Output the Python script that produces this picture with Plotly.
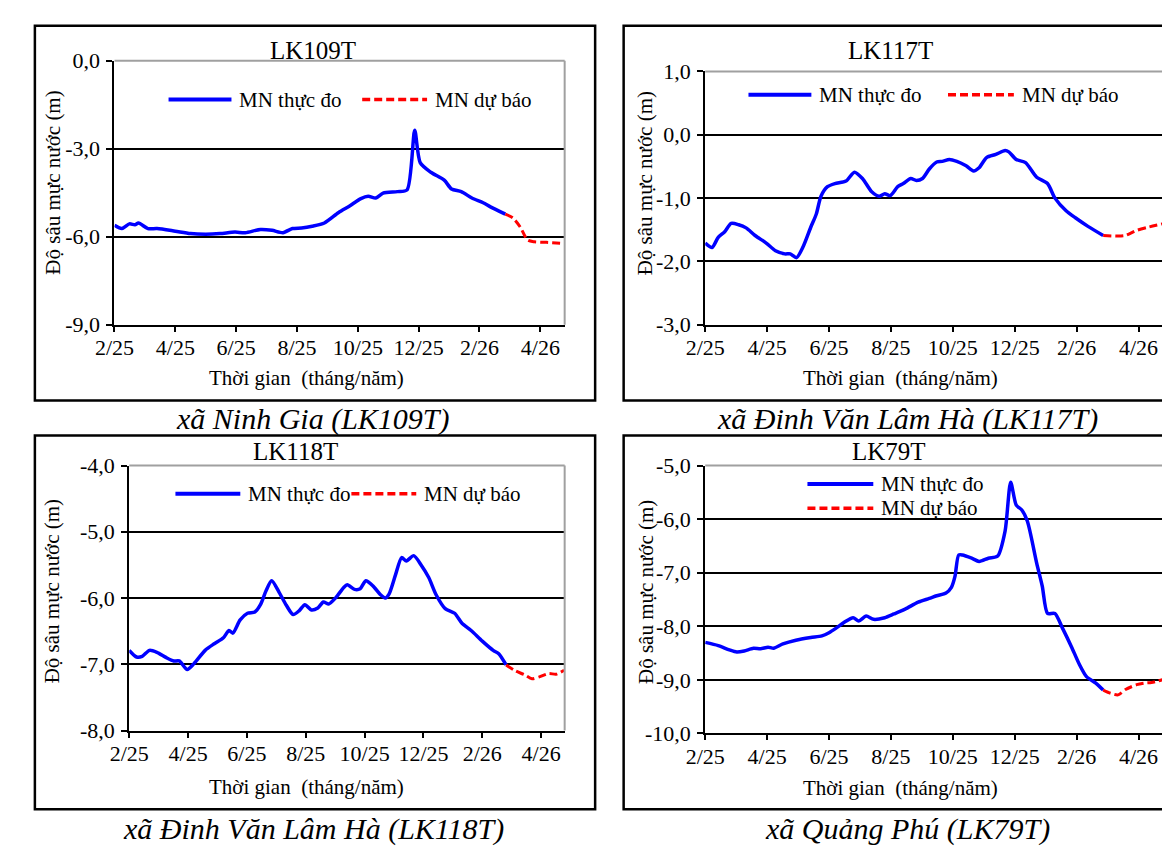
import plotly.graph_objects as go

# ---------------- data (x = months since Feb 2025) ----------------
tick_vals = [0, 2, 4, 6, 8, 10, 12, 14]
tick_text = ["2/25", "4/25", "6/25", "8/25", "10/25", "12/25", "2/26", "4/26"]

# LK109T
t1_obs = [0, 0.24, 0.49, 0.67, 0.79, 1.1, 1.4, 2.0, 2.5, 3.0, 3.47, 3.96, 4.3, 4.8, 5.18, 5.54,
          5.85, 6.15, 6.5, 6.9, 7.37, 7.73, 8.1, 8.34, 8.59, 8.83, 9.3, 9.62, 9.87, 10.05, 10.4,
          10.84, 11.08, 11.4, 11.75, 12.12, 12.36, 12.85]
v1_obs = [-5.61, -5.72, -5.56, -5.59, -5.53, -5.72, -5.72, -5.81, -5.89, -5.91, -5.89, -5.84,
          -5.86, -5.75, -5.78, -5.86, -5.72, -5.70, -5.64, -5.53, -5.17, -4.95, -4.70, -4.62,
          -4.68, -4.51, -4.46, -4.40, -2.37, -3.47, -3.80, -4.07, -4.37, -4.46, -4.68, -4.84,
          -4.98, -5.23]
t1_fc = [12.85, 13.1, 13.34, 13.58, 13.8, 14.2, 14.7]
v1_fc = [-5.23, -5.36, -5.67, -6.11, -6.17, -6.19, -6.22]

# LK117T
t2_obs = [0, 0.22, 0.42, 0.63, 0.84, 1.08, 1.32, 1.61, 1.97, 2.27, 2.57, 2.75, 2.95, 3.17, 3.41,
          3.59, 3.74, 3.95, 4.19, 4.55, 4.82, 5.08, 5.38, 5.62, 5.80, 5.98, 6.22, 6.40, 6.64,
          6.82, 7.02, 7.24, 7.48, 7.66, 7.89, 8.13, 8.43, 8.67, 8.85, 9.09, 9.39, 9.69, 9.81,
          10.05, 10.35, 10.71, 11.06, 11.3, 11.66, 11.96, 12.38, 12.86]
v2_obs = [-1.71, -1.78, -1.62, -1.53, -1.40, -1.42, -1.47, -1.59, -1.71, -1.83, -1.88, -1.88,
          -1.94, -1.76, -1.46, -1.25, -0.97, -0.82, -0.77, -0.73, -0.59, -0.69, -0.90, -0.97,
          -0.93, -0.96, -0.82, -0.77, -0.69, -0.72, -0.69, -0.54, -0.43, -0.42, -0.39, -0.42,
          -0.49, -0.57, -0.52, -0.36, -0.31, -0.25, -0.27, -0.39, -0.44, -0.67, -0.77, -1.00,
          -1.20, -1.31, -1.45, -1.59]
t2_fc = [12.86, 13.34, 13.58, 13.94, 14.3, 14.83]
v2_fc = [-1.59, -1.60, -1.59, -1.51, -1.46, -1.40]

# LK118T
t3_obs = [0, 0.25, 0.44, 0.69, 0.94, 1.26, 1.51, 1.7, 1.97, 2.2, 2.58, 2.89, 3.2, 3.39, 3.52,
          3.77, 4.02, 4.27, 4.46, 4.65, 4.84, 5.09, 5.34, 5.57, 5.78, 5.97, 6.19, 6.41, 6.6,
          6.78, 7.03, 7.29, 7.41, 7.66, 7.85, 8.04, 8.29, 8.54, 8.7, 8.83, 9.05, 9.26, 9.42,
          9.67, 9.92, 10.18, 10.43, 10.74, 11.06, 11.31, 11.62, 12.0, 12.37, 12.56, 12.81]
v3_obs = [-6.79, -6.89, -6.88, -6.79, -6.82, -6.90, -6.95, -6.95, -7.08, -6.99, -6.79, -6.69,
          -6.60, -6.49, -6.53, -6.33, -6.23, -6.21, -6.10, -5.89, -5.74, -5.91, -6.11, -6.25,
          -6.19, -6.10, -6.18, -6.15, -6.06, -6.09, -5.99, -5.84, -5.80, -5.87, -5.86, -5.74,
          -5.82, -5.95, -6.00, -5.94, -5.65, -5.39, -5.44, -5.36, -5.50, -5.69, -5.95, -6.16,
          -6.23, -6.38, -6.49, -6.65, -6.79, -6.84, -7.01]
t3_fc = [12.81, 13.13, 13.44, 13.69, 13.94, 14.26, 14.51, 14.78]
v3_fc = [-7.01, -7.10, -7.16, -7.22, -7.19, -7.14, -7.15, -7.09]

# LK79T
t4_obs = [0, 0.42, 0.78, 1.02, 1.26, 1.56, 1.79, 2.03, 2.21, 2.51, 2.93, 3.41, 3.77, 4.0, 4.24,
          4.48, 4.78, 4.96, 5.2, 5.44, 5.8, 6.1, 6.46, 6.88, 7.24, 7.48, 7.78, 7.95, 8.07, 8.19,
          8.31, 8.61, 8.85, 9.15, 9.45, 9.69, 9.87, 10.05, 10.23, 10.41, 10.71, 10.89, 11.06,
          11.3, 11.54, 11.84, 12.08, 12.32, 12.62, 12.86]
v4_obs = [-8.30, -8.36, -8.44, -8.48, -8.46, -8.41, -8.42, -8.39, -8.41, -8.33, -8.26, -8.21,
          -8.18, -8.12, -8.03, -7.93, -7.84, -7.90, -7.81, -7.87, -7.84, -7.77, -7.68, -7.55,
          -7.48, -7.43, -7.38, -7.28, -7.07, -6.67, -6.67, -6.73, -6.79, -6.73, -6.69, -6.22,
          -5.31, -5.74, -5.83, -6.04, -6.82, -7.25, -7.76, -7.76, -8.03, -8.39, -8.70, -8.94,
          -9.06, -9.19]
t4_fc = [12.86, 13.1, 13.34, 13.58, 13.94, 14.18, 14.42, 14.83]
v4_fc = [-9.19, -9.25, -9.28, -9.18, -9.09, -9.06, -9.05, -8.99]

titles = ["LK109T", "LK117T", "LK118T", "LK79T"]
captions = ["xã Ninh Gia (LK109T)", "xã Đinh Văn Lâm Hà (LK117T)",
            "xã Đinh Văn Lâm Hà (LK118T)", "xã Quảng Phú (LK79T)"]
y_ranges = [[-9, 0], [-3, 1], [-8, -4], [-10, -5]]
y_ticks = [[0, -3, -6, -9], [1, 0, -1, -2, -3], [-4, -5, -6, -7, -8], [-5, -6, -7, -8, -9, -10]]
y_ticktext = [["0,0", "-3,0", "-6,0", "-9,0"],
              ["1,0", "0,0", "-1,0", "-2,0", "-3,0"],
              ["-4,0", "-5,0", "-6,0", "-7,0", "-8,0"],
              ["-5,0", "-6,0", "-7,0", "-8,0", "-9,0", "-10,0"]]
obs_label = "MN thực đo"
fc_label = "MN dự báo"
x_title = "Thời gian\u00a0 (tháng/năm)"
y_title = "Độ sâu mực nước (m)"

series = [(t1_obs, v1_obs, t1_fc, v1_fc), (t2_obs, v2_obs, t2_fc, v2_fc),
          (t3_obs, v3_obs, t3_fc, v3_fc), (t4_obs, v4_obs, t4_fc, v4_fc)]

# ---------------- layout geometry (pixels) ----------------
W, H = 1170, 852
FONT = "Liberation Serif"
plot_px = [(88, 546, 42, 314), (689, 1155, 53, 314), (103, 546, 459, 732), (689, 1155, 459, 735)]
box_px = [(7, 577, 6, 392), (606, 1172, 6, 392), (7, 577, 428, 813), (606, 1172, 428, 813)]
title_px = [(290, 31), (877, 31), (272, 445), (876, 445)]
caption_px = [(290, 411), (895, 411), (290, 833), (895, 833)]
xtitle_px = [(283, 369), (888, 369), (283, 790), (888, 791)]
ytitle_px = [(26, 168), (628, 168), (24, 589), (628, 589)]
legend_px = [  # (obs line x0,x1,y, fc line x0,x1,y)
    (143, 207, 82, 340, 406, 82),
    (733, 797, 77, 936, 1003, 77),
    (150, 216, 488, 329, 395, 488),
    (793, 860, 478, 793, 860, 503),
]

def px(x):
    return x / W

def py(y):
    return 1 - y / H

fig = go.Figure()
shapes = []
annotations = []

for i in range(4):
    n = "" if i == 0 else str(i + 1)
    xa, ya = "x" + n, "y" + n
    t_o, v_o, t_f, v_f = series[i]
    fig.add_trace(go.Scatter(x=t_o, y=v_o, mode="lines", xaxis=xa, yaxis=ya, showlegend=False,
                             line=dict(color="#0000FF", width=3.5, shape="spline", smoothing=0.7)))
    fig.add_trace(go.Scatter(x=t_f, y=v_f, mode="lines", xaxis=xa, yaxis=ya, showlegend=False,
                             line=dict(color="#FF0000", width=3, dash="8px,4px",
                                       shape="spline", smoothing=0.7)))
    x0, x1, y0, y1 = plot_px[i]
    fig.update_layout(**{
        "xaxis" + n: dict(domain=[px(x0), px(x1)], anchor=ya, range=[0, 14.8],
                          tickmode="array", tickvals=tick_vals, ticktext=tick_text,
                          showline=True, linecolor="black", linewidth=2,
                          ticks="outside", ticklen=5, tickwidth=2, tickcolor="black",
                          showgrid=False, zeroline=False, ticklabelstandoff=-3,
                          tickfont=dict(family=FONT, size=22, color="black")),
        "yaxis" + n: dict(domain=[py(y1), py(y0)], anchor=xa, range=y_ranges[i],
                          tickmode="array", tickvals=y_ticks[i], ticktext=y_ticktext[i],
                          showline=True, linecolor="black", linewidth=2,
                          ticks="outside", ticklen=6, tickwidth=2, tickcolor="black",
                          showgrid=True, gridcolor="black", gridwidth=1.8, zeroline=False,
                          ticklabelstandoff=2,
                          tickfont=dict(family=FONT, size=22, color="black")),
    })
    # grey top/right plot border
    shapes.append(dict(type="line", xref=xa + " domain", yref=ya + " domain", x0=0, x1=1, y0=1, y1=1,
                       line=dict(color="#a0a0a0", width=2)))
    shapes.append(dict(type="line", xref=xa + " domain", yref=ya + " domain", x0=1, x1=1, y0=0, y1=1,
                       line=dict(color="#a0a0a0", width=2)))
    # outer panel box
    bx0, bx1, by0, by1 = box_px[i]
    shapes.append(dict(type="rect", xref="paper", yref="paper", x0=px(bx0), x1=px(bx1),
                       y0=py(by1), y1=py(by0), line=dict(color="black", width=2.5)))
    # legend
    lx0, lx1, ly, fx0, fx1, fy = legend_px[i]
    shapes.append(dict(type="line", xref="paper", yref="paper", x0=px(lx0), x1=px(lx1),
                       y0=py(ly), y1=py(ly), line=dict(color="#0000FF", width=4)))
    shapes.append(dict(type="line", xref="paper", yref="paper", x0=px(fx0), x1=px(fx1),
                       y0=py(fy), y1=py(fy), line=dict(color="#FF0000", width=3.5, dash="8px,4px")))
    annotations.append(dict(text=obs_label, x=px(lx1 + 6), y=py(ly), xref="paper", yref="paper",
                            xanchor="left", yanchor="middle", showarrow=False,
                            font=dict(family=FONT, size=21, color="black")))
    annotations.append(dict(text=fc_label, x=px(fx1 + 6), y=py(fy), xref="paper", yref="paper",
                            xanchor="left", yanchor="middle", showarrow=False,
                            font=dict(family=FONT, size=21, color="black")))
    # titles, captions, axis titles
    tx, ty = title_px[i]
    annotations.append(dict(text=titles[i], x=px(tx), y=py(ty), xref="paper", yref="paper",
                            xanchor="center", yanchor="middle", showarrow=False,
                            font=dict(family=FONT, size=25, color="black")))
    cx, cy = caption_px[i]
    annotations.append(dict(text="<i>" + captions[i] + "</i>", x=px(cx), y=py(cy), xref="paper",
                            yref="paper", xanchor="center", yanchor="middle", showarrow=False,
                            font=dict(family=FONT, size=30, color="black")))
    xtx, xty = xtitle_px[i]
    annotations.append(dict(text=x_title, x=px(xtx), y=py(xty), xref="paper", yref="paper",
                            xanchor="center", yanchor="middle", showarrow=False,
                            font=dict(family=FONT, size=21, color="black")))
    ytx, yty = ytitle_px[i]
    annotations.append(dict(text=y_title, x=px(ytx), y=py(yty), xref="paper", yref="paper",
                            xanchor="center", yanchor="middle", showarrow=False, textangle=-90,
                            font=dict(family=FONT, size=21, color="black")))

fig.update_layout(width=W, height=H, margin=dict(l=0, r=0, t=0, b=0),
                  paper_bgcolor="white", plot_bgcolor="white",
                  shapes=shapes, annotations=annotations,
                  font=dict(family=FONT, color="black"))

fig.write_html("out.html")
